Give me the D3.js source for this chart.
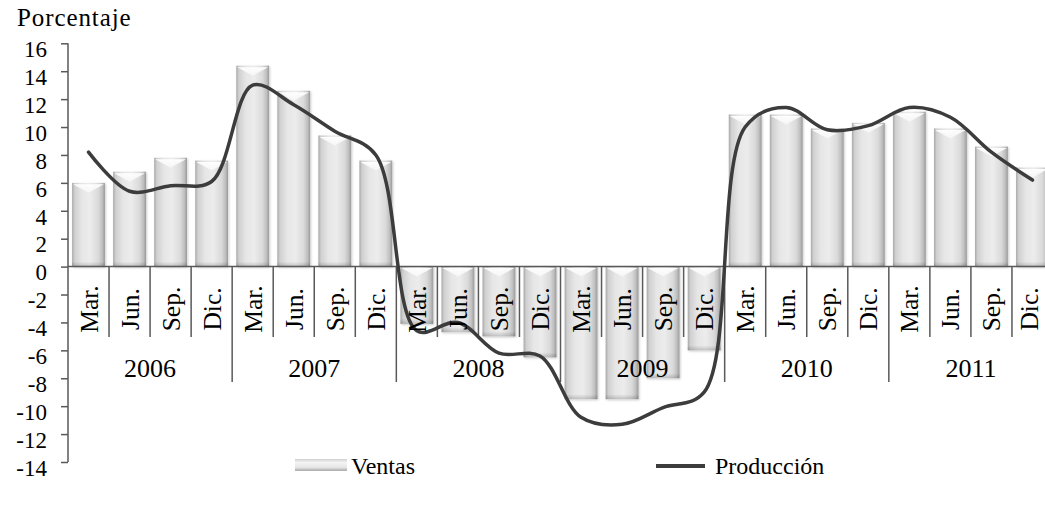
<!DOCTYPE html>
<html>
<head>
<meta charset="utf-8">
<script src="https://cdn.jsdelivr.net/npm/d3@7"></script>
<style>
  html, body { margin: 0; padding: 0; background: #fff; overflow: hidden; }
  svg { display: block; }
  text { font-family: "Liberation Serif", "Times New Roman", Times, serif; fill: #000; }
</style>
</head>
<body>
<svg id="chart" width="1045" height="508"></svg>
<script>
// ---- data ----
const years = ["2006", "2007", "2008", "2009", "2010", "2011"];
const quarters = ["Mar.", "Jun.", "Sep.", "Dic."];
const ventas = [6.0, 6.8, 7.8, 7.6, 14.4, 12.6, 9.4, 7.6,
                -4.1, -4.7, -5.0, -6.5, -9.5, -9.5, -8.0, -6.0,
                10.9, 10.9, 9.9, 10.3, 11.1, 9.9, 8.6, 7.1];
const produccion = [8.2, 5.4, 5.8, 6.1, 13.0, 11.6, 9.7, 8.0,
                    -4.6, -4.0, -6.2, -6.4, -10.8, -11.3, -10.1, -9.0,
                    10.0, 11.4, 9.8, 10.1, 11.4, 10.7, 8.2, 6.2];
const yTicks = [16, 14, 12, 10, 8, 6, 4, 2, 0, -2, -4, -6, -8, -10, -12, -14];
const seriesNames = ["Ventas", "Producción"];
const yTitle = "Porcentaje";

(function () {
const cats = [];
years.forEach(yv => quarters.forEach(q => cats.push(yv + "-" + q)));

const svg = d3.select("#chart");
const pLeft = 68, pRight = 1053, pTop = 43.3, pBottom = 462;
const x = d3.scaleBand().domain(cats).range([pLeft, pRight]).paddingInner(0.2).paddingOuter(0.1);
const xs = d3.scaleBand().domain(cats).range([pLeft, pRight]);
const y = d3.scaleLinear().domain([-14, 16]).range([pBottom, pTop]);
const axisColor = "#595959";

const defs = svg.append("defs");
const hg = defs.append("linearGradient").attr("id", "barH").attr("x1", "0").attr("x2", "1").attr("y1", "0").attr("y2", "0");
[[0, "#a8a8a8"], [0.08, "#d0d0d0"], [0.3, "#e6e6e6"], [0.55, "#ececec"], [0.8, "#dadada"], [0.92, "#bfbfbf"], [1, "#999999"]]
  .forEach(([o, c]) => hg.append("stop").attr("offset", o).attr("stop-color", c));
const bg = defs.append("linearGradient").attr("id", "barB").attr("x1", "0").attr("x2", "0").attr("y1", "0").attr("y2", "1");
bg.append("stop").attr("offset", 0).attr("stop-color", "#000").attr("stop-opacity", 0);
bg.append("stop").attr("offset", 1).attr("stop-color", "#000").attr("stop-opacity", 0.18);
const tg = defs.append("linearGradient").attr("id", "barT").attr("x1", "0").attr("x2", "0").attr("y1", "0").attr("y2", "1");
tg.append("stop").attr("offset", 0).attr("stop-color", "#fff").attr("stop-opacity", 0.95);
tg.append("stop").attr("offset", 1).attr("stop-color", "#fff").attr("stop-opacity", 0.55);
const lg = defs.append("linearGradient").attr("id", "legV").attr("x1", "0").attr("x2", "0").attr("y1", "0").attr("y2", "1");
[[0, "#d0d0d0"], [0.3, "#f4f4f4"], [0.7, "#e6e6e6"], [1, "#a8a8a8"]]
  .forEach(([o, c]) => lg.append("stop").attr("offset", o).attr("stop-color", c));
defs.append("filter").attr("id", "shadow").attr("x", "-20%").attr("y", "-5%").attr("width", "140%").attr("height", "115%")
  .append("feDropShadow").attr("dx", 1).attr("dy", 1).attr("stdDeviation", 1).attr("flood-color", "#000").attr("flood-opacity", 0.2);

// category separators
const sepG = svg.append("g");
cats.forEach((c, i) => {
  if (i === 0) return;
  const xx = xs(c);
  sepG.append("line").attr("x1", xx).attr("x2", xx)
    .attr("y1", y(0)).attr("y2", i % 4 === 0 ? 382 : 337)
    .attr("stroke", axisColor).attr("stroke-width", 1.5);
});

// bars
const barG = svg.append("g");
ventas.forEach((v, i) => {
  const bx = x(cats[i]), bw = x.bandwidth();
  const y0 = Math.min(y(v), y(0)), h = Math.abs(y(v) - y(0));
  const g = barG.append("g").attr("filter", "url(#shadow)");
  g.append("rect").attr("x", bx).attr("y", y0).attr("width", bw).attr("height", h).attr("fill", "url(#barH)");
  g.append("rect").attr("x", bx).attr("y", y0 + h - 5).attr("width", bw).attr("height", 5).attr("fill", "url(#barB)");
  g.append("path")
    .attr("d", `M${bx + 1},${y0 + 1.5} L${bx + bw - 1},${y0 + 1.5} L${bx + bw / 2},${y0 + 10} Z`)
    .attr("fill", "url(#barT)");
});

// axes
svg.append("line").attr("x1", pLeft).attr("x2", pLeft).attr("y1", pTop).attr("y2", pBottom)
  .attr("stroke", axisColor).attr("stroke-width", 1.5);
svg.append("line").attr("x1", pLeft).attr("x2", pRight).attr("y1", y(0)).attr("y2", y(0))
  .attr("stroke", axisColor).attr("stroke-width", 1.5);
const yAxis = d3.axisLeft(y).tickValues(yTicks).tickSize(7).tickFormat(d => String(d));
const ya = svg.append("g").attr("transform", `translate(${pLeft},0)`).call(yAxis);
ya.attr("font-family", null);
ya.select(".domain").remove();
ya.selectAll(".tick line").attr("stroke", axisColor).attr("stroke-width", 1.5);
ya.selectAll(".tick text").attr("x", -21).attr("dy", "0.62em").attr("y", -1)
  .style("font-size", "23px").attr("fill", "#000");

svg.append("text").attr("x", 17).attr("y", 26).style("font-size", "25px")
  .style("letter-spacing", "0.9px").text(yTitle);

// production line
const line = d3.line()
  .x((d, i) => x(cats[i]) + x.bandwidth() / 2)
  .y(d => y(d))
  .curve(d3.curveCatmullRom.alpha(0.5));
svg.append("path").datum(produccion).attr("d", line)
  .attr("fill", "none").attr("stroke", "#3c3c3c").attr("stroke-width", 3.5)
  .attr("stroke-linejoin", "round").attr("stroke-linecap", "round");

// category labels
const labG = svg.append("g");
cats.forEach((c, i) => {
  const cx = xs(c) + xs.bandwidth() / 2;
  labG.append("text")
    .attr("transform", `translate(${Math.min(cx + 9, 1038)},${309}) rotate(-90)`)
    .attr("text-anchor", "middle")
    .style("font-size", "25.5px")
    .text(quarters[i % 4]);
});
years.forEach((yr, k) => {
  const x0 = xs(cats[k * 4]), x1 = xs(cats[k * 4 + 3]) + xs.bandwidth();
  labG.append("text").attr("x", (x0 + x1) / 2).attr("y", 377)
    .attr("text-anchor", "middle").style("font-size", "26px").text(yr);
});

// legend
const leg = svg.append("g");
leg.append("rect").attr("x", 295).attr("y", 459).attr("width", 52).attr("height", 12).attr("fill", "url(#legV)");
leg.append("text").attr("x", 351).attr("y", 474).style("font-size", "24px").text(seriesNames[0]);
leg.append("line").attr("x1", 656).attr("x2", 705).attr("y1", 466).attr("y2", 466)
  .attr("stroke", "#3c3c3c").attr("stroke-width", 4);
leg.append("text").attr("x", 715).attr("y", 474).style("font-size", "24px").text(seriesNames[1]);
})();
</script>
</body>
</html>
